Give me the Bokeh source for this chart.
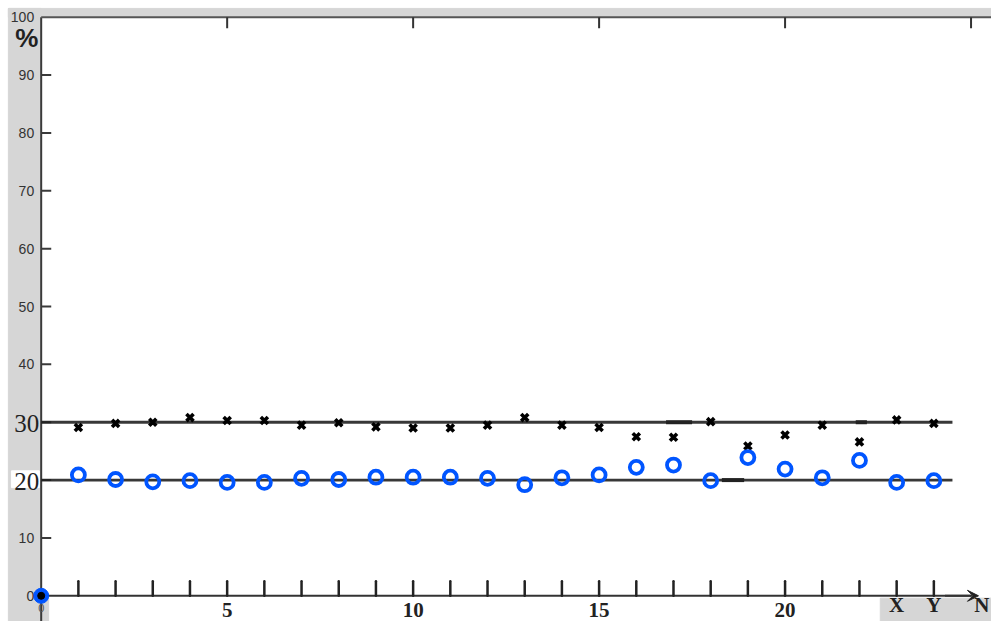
from bokeh.plotting import figure
from bokeh.models import Range1d, Arrow, VeeHead, ColumnDataSource
from bokeh.core.properties import value
from bokeh.embed import file_html
from bokeh.resources import INLINE

# ---- data ----
xs = list(range(1, 25))
black_vals = [29.1, 29.8, 30.0, 30.8, 30.3, 30.3, 29.5, 29.9, 29.2, 29.0, 29.0, 29.5,
              30.8, 29.5, 29.1, 27.5, 27.4, 30.1, 25.9, 27.8, 29.5, 26.6, 30.4, 29.8]
blue_vals = [20.9, 20.1, 19.7, 19.9, 19.6, 19.6, 20.3, 20.1, 20.5, 20.5, 20.5, 20.3,
             19.2, 20.4, 20.9, 22.2, 22.6, 19.9, 23.9, 21.9, 20.4, 23.4, 19.6, 19.9]
ref_levels = [20, 30]
y_small_ticks = [0, 10, 40, 50, 60, 70, 80, 90, 100]
y_big_ticks = [20, 30]
y_tick_marks = [10, 20, 30, 40, 50, 60, 70, 80, 90]
top_ticks = [5, 10, 15, 20, 25]
x_num_ticks = [5, 10, 15, 20]
x_letter_pos = [23, 24]
x_letter_txt = ["X", "Y"]
x_end_label = "N"

XMIN, XMAX = -1.094, 25.55
YMIN, YMAX = -4.44, 102.89
GX = -0.882     # left edge of gray band
GY = 101.52     # top edge of gray band
GRAY = "#d6d6d6"
AX = "#3a3a3a"

p = figure(width=991, height=621, x_range=Range1d(XMIN, XMAX), y_range=Range1d(YMIN, YMAX),
           output_backend="svg", toolbar_location=None, min_border=0)
p.axis.visible = False
p.grid.visible = False
p.outline_line_color = None
p.background_fill_color = "white"
p.border_fill_color = "white"

# gray bands
p.quad(left=[GX], right=[0], bottom=[YMIN], top=[GY], color=GRAY)
p.quad(left=[GX], right=[XMAX], bottom=[100], top=[GY], color=GRAY)
p.quad(left=[22.56], right=[XMAX], bottom=[YMIN], top=[-0.4], color=GRAY)
p.quad(left=[0], right=[0.2], bottom=[YMIN], top=[-0.4], color=GRAY)
p.quad(left=[-0.8], right=[-0.05], bottom=[18.7], top=[21.6], color="white")

# axis lines
p.segment(x0=[0], y0=[YMIN], x1=[0], y1=[100], line_color=AX, line_width=2)
p.segment(x0=[0], y0=[100], x1=[XMAX], y1=[100], line_color="#555555", line_width=2)
p.segment(x0=[0], y0=[0], x1=[25.0], y1=[0], line_color="#333333", line_width=2)
p.add_layout(Arrow(end=VeeHead(size=11, fill_color="#222222", line_color="#222222"),
                   x_start=24.3, y_start=0, x_end=25.2, y_end=0,
                   line_color="#333333", line_width=2))

# tick marks
p.segment(x0=[0]*len(y_tick_marks), y0=y_tick_marks, x1=[0.27]*len(y_tick_marks), y1=y_tick_marks,
          line_color=AX, line_width=2)
p.segment(x0=top_ticks, y0=[100]*len(top_ticks), x1=top_ticks, y1=[98.1]*len(top_ticks),
          line_color="#333333", line_width=2)
p.segment(x0=xs, y0=[0]*len(xs), x1=xs, y1=[2.5]*len(xs),
          line_color="#222222", line_width=2.5, line_cap="round")

# reference lines
for lv in ref_levels:
    p.segment(x0=[0], y0=[lv], x1=[24.5], y1=[lv], line_color="#222222", line_width=2.8, line_alpha=0.9)
p.segment(x0=[16.8, 18.3, 21.9], y0=[30, 20, 30], x1=[17.5, 18.9, 22.2], y1=[30, 20, 30],
          line_color="#222222", line_width=4)

# data
src = ColumnDataSource(dict(x=xs, b=black_vals, c=blue_vals))
p.scatter("x", "b", source=src, marker="x", size=10, line_width=3.6, line_color="black")
p.scatter("x", "c", source=src, marker="circle", size=13, line_width=3.8,
          line_color="#0055ff", fill_color=None)
p.scatter([0], [0], marker="circle", size=15, fill_color="#0055ff", line_color="#0055ff")
p.scatter([0], [0], marker="circle", size=7, fill_color="black", line_color="black")

# y labels
p.text(x=[0]*len(y_small_ticks), y=y_small_ticks, text=[str(v) for v in y_small_ticks],
       x_offset=-7, text_align="right", text_baseline="middle",
       text_font=value("Liberation Sans"), text_font_size="14px", text_color="#333333")
p.text(x=[0]*len(y_big_ticks), y=y_big_ticks, text=[str(v) for v in y_big_ticks],
       x_offset=-2, y_offset=1, text_align="right", text_baseline="middle",
       text_font=value("Liberation Serif"), text_font_size="25px", text_color="#222222")
p.text(x=[0], y=[0], text=["0"], y_offset=12, text_align="center", text_baseline="middle",
       text_font=value("Liberation Sans"), text_font_size="11px", text_color="#555555")
p.text(x=[0], y=[100], text=["%"], x_offset=-14.5, y_offset=21, text_align="center",
       text_baseline="middle", text_font=value("Liberation Sans"), text_font_size="26px",
       text_font_style="bold", text_color="#222222")

# x labels
p.text(x=x_num_ticks, y=[0]*len(x_num_ticks), text=[str(v) for v in x_num_ticks],
       y_offset=21, text_align="center", text_baseline="bottom",
       text_font=value("Liberation Serif"), text_font_size="21px", text_font_style="bold",
       text_color="#222222")
p.text(x=x_letter_pos, y=[0]*len(x_letter_pos), text=x_letter_txt,
       y_offset=21, text_align="center", text_baseline="bottom",
       text_font=value("Liberation Serif"), text_font_size="21px", text_font_style="bold",
       text_color="#222222")
p.text(x=[XMAX], y=[0], text=[x_end_label], x_offset=-2, y_offset=21,
       text_align="right", text_baseline="bottom",
       text_font=value("Liberation Serif"), text_font_size="21px", text_font_style="bold",
       text_color="#222222")

open("out.html", "w").write(file_html(p, INLINE))
